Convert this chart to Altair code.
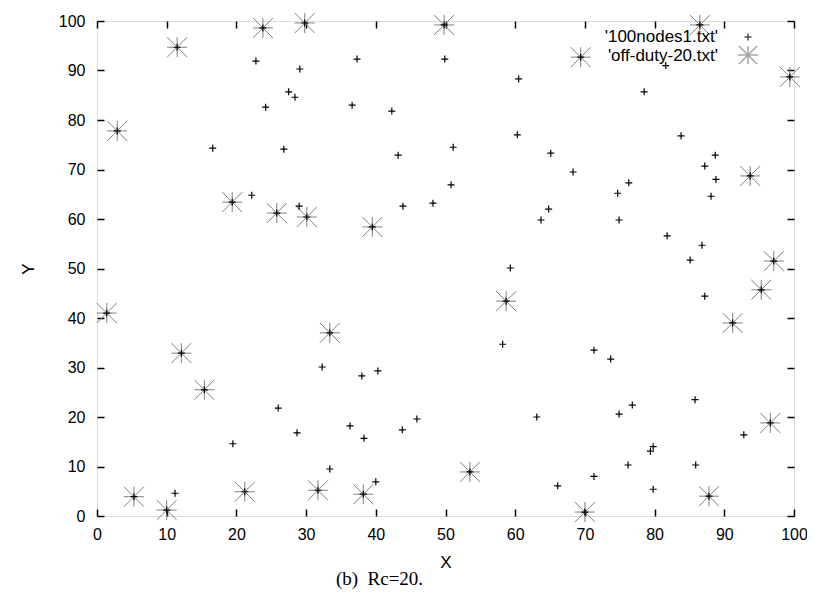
import altair as alt
import pandas as pd

# '100nodes1.txt' points visible as plain crosses
plus_x = [22.8, 29.1, 27.5, 28.4, 24.2, 16.6, 26.8, 22.2, 29.0, 37.3,
          49.9, 60.5, 36.6, 42.3, 60.3, 51.1, 43.2, 65.1, 68.3, 50.8,
          43.9, 48.2, 64.8, 63.7, 59.3, 58.2, 71.3, 73.7, 38.0, 40.3,
          32.3, 81.6, 78.5, 83.8, 88.7, 87.2, 88.8, 88.1, 76.3, 74.7,
          74.9, 81.8, 86.8, 85.1, 87.2, 85.8, 76.8, 74.9, 92.8, 79.8,
          79.4, 76.2, 85.9, 71.3, 79.8, 66.1, 63.1, 40.0, 36.3, 38.3,
          43.8, 45.9, 26.0, 28.7, 19.5, 33.4, 11.2]
plus_y = [91.9, 90.3, 85.7, 84.6, 82.6, 74.3, 74.1, 64.8, 62.6, 92.3,
          92.3, 88.3, 83.0, 81.8, 77.0, 74.5, 72.9, 73.3, 69.5, 66.9,
          62.6, 63.2, 62.0, 59.8, 50.1, 34.7, 33.5, 31.7, 28.3, 29.3,
          30.1, 91.0, 85.7, 76.8, 72.9, 70.7, 68.0, 64.6, 67.3, 65.2,
          59.8, 56.6, 54.7, 51.7, 44.4, 23.5, 22.4, 20.6, 16.4, 14.0,
          13.1, 10.3, 10.3, 8.0, 5.4, 6.1, 20.0, 6.9, 18.2, 15.7,
          17.4, 19.6, 21.8, 16.8, 14.6, 9.5, 4.6]

# 'off-duty-20.txt' points (stars)
star_x = [23.8, 29.8, 49.8, 11.5, 2.9, 69.4, 86.5, 99.4, 19.4, 25.8,
          30.1, 39.5, 93.7, 97.1, 95.3, 58.7, 1.4, 91.2, 33.4, 12.1,
          15.4, 96.6, 53.5, 5.3, 10.0, 21.2, 31.7, 38.2, 70.0, 87.8]
star_y = [98.6, 99.6, 99.2, 94.7, 77.8, 92.7, 99.2, 88.7, 63.4, 61.2,
          60.4, 58.4, 68.7, 51.5, 45.7, 43.4, 41.0, 39.0, 37.0, 32.9,
          25.5, 18.8, 8.9, 3.9, 1.2, 4.9, 5.2, 4.4, 0.8, 4.0]

ticks = [0, 10, 20, 30, 40, 50, 60, 70, 80, 90, 100]
keys = ["nodes", "offduty"]
S1 = "'100nodes1.txt'"
S2 = "'off-duty-20.txt'"

nodes = pd.DataFrame({"x": plus_x + star_x, "y": plus_y + star_y,
                      "series": keys[0], "label": S1})
off = pd.DataFrame({"x": star_x, "y": star_y, "series": keys[1], "label": S2})

PLUS = "M-1,0H1M0,-1V1"
STAR = "M-1,0H1M0,-1V1M-1,-1L1,1M-1,1L1,-1"

FONT = "Liberation Sans"
xs = alt.Scale(domain=[0, 100], nice=False, zero=False)
ys = alt.Scale(domain=[0, 100], nice=False, zero=False)

# legend showing only the sample symbols (gnuplot puts them right of the text)
legend_sym = alt.Legend(title=None, orient="none", legendX=640, legendY=7,
                        labelExpr="''", labelOffset=0, rowPadding=0, clipHeight=18)
# legend showing only the right-aligned key texts
legend_lab = alt.Legend(title=None, orient="none", legendX=604, legendY=7,
                        labelFont=FONT, labelFontSize=17, labelColor="black",
                        labelAlign="right", labelOffset=0, symbolSize=0,
                        symbolStrokeWidth=0, rowPadding=1, clipHeight=18)

shape = alt.Shape("series:N", scale=alt.Scale(domain=keys, range=[PLUS, STAR]), legend=legend_sym)
size = alt.Size("series:N", scale=alt.Scale(domain=keys, range=[49, 400]), legend=legend_sym)
stroke = alt.Stroke("series:N", scale=alt.Scale(domain=keys, range=["#000000", "#808080"]), legend=legend_sym)
opac = alt.Opacity("label:N", scale=alt.Scale(domain=[S1, S2], range=[1, 1]), legend=legend_lab)

common_axis = dict(values=ticks, tickSize=7, tickWidth=1.5, tickColor="black",
                   domain=False, grid=False, offset=-7)

x_main = alt.Axis(orient="bottom", labelFont=FONT, labelFontSize=16, labelColor="black",
                  labelPadding=10, title="X", titleFont=FONT, titleFontSize=17,
                  titleFontWeight="normal", titleColor="black", titlePadding=12,
                  labelFlush=False, **common_axis)
y_main = alt.Axis(orient="left", labelFont=FONT, labelFontSize=16, labelColor="black",
                  labelPadding=12, title="Y", titleFont=FONT, titleFontSize=17,
                  titleFontWeight="normal", titleColor="black", titlePadding=21,
                  labelFlush=False, **common_axis)
x_top = alt.Axis(orient="top", labels=False, title=None, **common_axis)
y_right = alt.Axis(orient="right", labels=False, title=None, **common_axis)

stars = alt.Chart(off).mark_point(filled=False, strokeWidth=1.0).encode(
    x=alt.X("x:Q", scale=xs, axis=x_top),
    y=alt.Y("y:Q", scale=ys, axis=y_right),
    shape=shape, size=size, stroke=stroke, opacity=opac,
)

crosses = alt.Chart(nodes).mark_point(filled=False, strokeWidth=1.2).encode(
    x=alt.X("x:Q", scale=xs, axis=x_main),
    y=alt.Y("y:Q", scale=ys, axis=y_main),
    shape=shape, size=size, stroke=stroke, opacity=opac,
)

chart = alt.layer(stars, crosses).resolve_axis(
    x="independent", y="independent"
).properties(
    width=697, height=495,
    autosize=alt.AutoSizeParams(type="none"),
    padding={"left": 89, "top": 13, "right": 13, "bottom": 80},
    title=alt.TitleParams("(b)\u00a0\u00a0Rc=20.", orient="bottom", font="Liberation Serif",
                          fontSize=19, fontWeight="normal", color="black",
                          offset=0, dx=-66),
).configure_view(stroke="black", strokeWidth=1.5).configure(background="white")

chart.save("out.html", embed_options={"renderer": "svg", "actions": False})
